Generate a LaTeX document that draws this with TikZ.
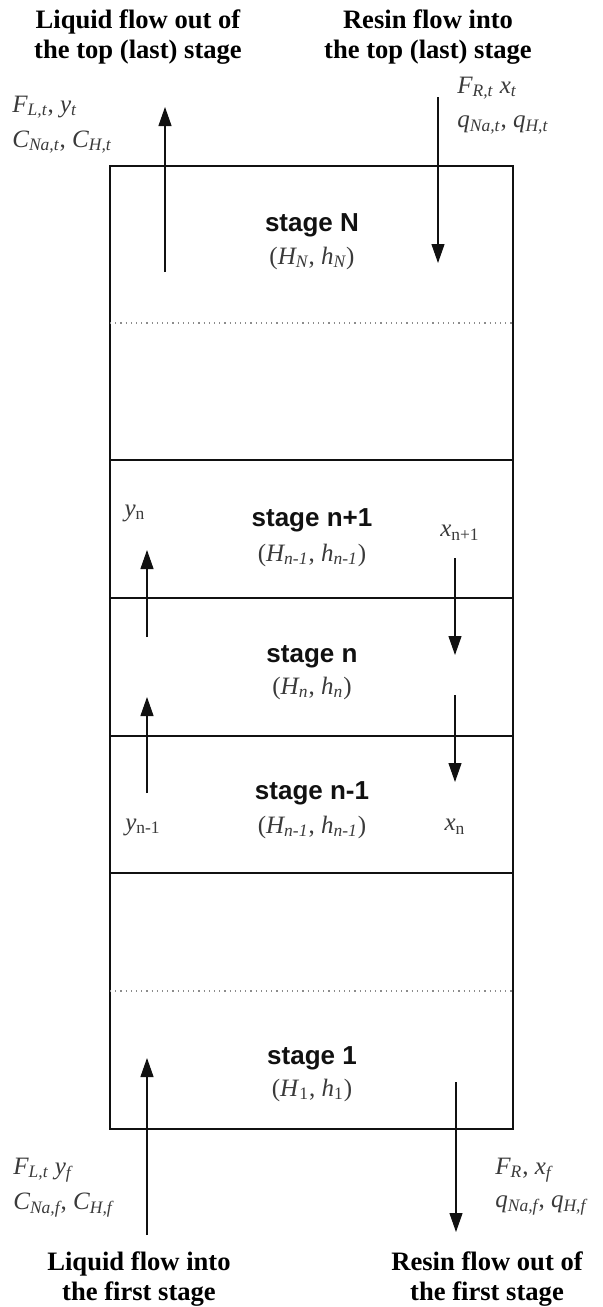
\documentclass[tikz,border=0pt]{standalone}
\usepackage{fontspec}
\setmainfont{Liberation Serif}
\newfontfamily\stagefont{Liberation Sans}
\usetikzlibrary{arrows.meta}
\definecolor{stageInk}{HTML}{111111}
\definecolor{labelInk}{HTML}{3A3A3A}
\definecolor{dotInk}{HTML}{8C8C8C}
%% italic symbol with italic / upright subscript
\newcommand{\vsub}[2]{\textit{#1\textsubscript{#2}}}
\newcommand{\vsubr}[2]{\textit{#1}\textsubscript{#2}}
\begin{document}
\begin{tikzpicture}[x=0.5pt, y=-0.5pt,
  heading/.style={font=\bfseries\fontsize{13.3}{15}\selectfont, align=center, inner sep=0pt},
  stagename/.style={font=\stagefont\bfseries\fontsize{13}{15}\selectfont, text=stageInk, inner sep=0pt},
  param/.style={font=\fontsize{12.5}{15}\selectfont, text=labelInk, inner sep=0pt},
  flow/.style={-{Triangle[length=9.5pt, width=6.5pt]}, line width=0.55pt, stageInk},
  wall/.style={line width=0.9pt, stageInk}]

  \useasboundingbox (0,0) rectangle (602,1307);

  %% --- Column of stages ---
  \coordinate (topL) at (110,166);
  \coordinate (botR) at (513,1129);
  \draw[wall] (topL) rectangle (botR);
  \foreach \y in {460, 598, 736, 873} {
    \draw[wall] (110,\y) -- (513,\y);
  }
  %% omitted stages (dotted)
  \foreach \y in {323, 991} {
    \draw[dotInk, dotted, line width=0.6pt] (110,\y) -- (513,\y);
  }

  %% --- Stage names ---
  \node[stagename] (sN)   at (312,225)  {stage N};
  \node[param]     (hN)   at (312,258)  {(\vsub{H}{N}, \vsub{h}{N})};
  \node[stagename] (sNp)  at (312,520)  {stage n+1};
  \node[param]     (hNp)  at (312,555)  {(\vsub{H}{n-1}, \vsub{h}{n-1})};
  \node[stagename] (sn)   at (312,657)  {stage n};
  \node[param]     (hn)   at (312,688)  {(\vsub{H}{n}, \vsub{h}{n})};
  \node[stagename] (snm)  at (312,793)  {stage n-1};
  \node[param]     (hnm)  at (312,827)  {(\vsub{H}{n-1}, \vsub{h}{n-1})};
  \node[stagename] (sone) at (312,1058) {stage 1};
  \node[param]     (hone) at (312,1090) {(\vsubr{H}{1}, \vsubr{h}{1})};

  %% --- Headings ---
  \node[heading] (liqOut) at (138,37)   {Liquid flow out of\\the top (last) stage};
  \node[heading] (resIn)  at (428,37)   {Resin flow into\\the top (last) stage};
  \node[heading] (liqIn)  at (139,1279) {Liquid flow into\\the first stage};
  \node[heading] (resOut) at (487,1279) {Resin flow out of\\the first stage};

  %% --- Outer stream labels ---
  \node[param, anchor=west] (liqOutA) at (12,107)  {\vsub{F}{L,t}, \vsub{y}{t}};
  \node[param, anchor=west] (liqOutB) at (12,142)  {\vsub{C}{Na,t}, \vsub{C}{H,t}};
  \node[param, anchor=west] (resInA)  at (457,88)  {\vsub{F}{R,t} \vsub{x}{t}};
  \node[param, anchor=west] (resInB)  at (457,125) {\vsub{q}{Na,t}, \vsub{q}{H,t}};
  \node[param, anchor=west] (liqInA)  at (13,1170) {\vsub{F}{L,t} \vsub{y}{f}};
  \node[param, anchor=west] (liqInB)  at (13,1205) {\vsub{C}{Na,f}, \vsub{C}{H,f}};
  \node[param, anchor=west] (resOutA) at (495,1170) {\vsub{F}{R}, \vsub{x}{f}};
  \node[param, anchor=west] (resOutB) at (495,1205) {\vsub{q}{Na,f}, \vsub{q}{H,f}};

  %% --- Inter-stage labels ---
  \node[param] (yn)   at (135,513) {\vsubr{y}{n}};
  \node[param] (xnp)  at (460,533) {\vsubr{x}{n+1}};
  \node[param] (ynm)  at (143,827) {\vsubr{y}{n-1}};
  \node[param] (xn)   at (455,827) {\vsubr{x}{n}};

  %% --- Arrow end points ---
  \coordinate (lqTopS) at (165,272);  \coordinate (lqTopE) at (165,107);
  \coordinate (rsTopS) at (438,97);   \coordinate (rsTopE) at (438,263);
  \coordinate (lqUpAS) at (147,637);  \coordinate (lqUpAE) at (147,550);
  \coordinate (lqUpBS) at (147,793);  \coordinate (lqUpBE) at (147,697);
  \coordinate (rsDnAS) at (455,558);  \coordinate (rsDnAE) at (455,655);
  \coordinate (rsDnBS) at (455,695);  \coordinate (rsDnBE) at (455,782);
  \coordinate (lqBotS) at (147,1235); \coordinate (lqBotE) at (147,1058);
  \coordinate (rsBotS) at (456,1082); \coordinate (rsBotE) at (456,1232);

  %% --- Liquid (up) and resin (down) streams ---
  \draw[flow] (lqTopS) -- (lqTopE);
  \draw[flow] (rsTopS) -- (rsTopE);
  \draw[flow] (lqUpAS) -- (lqUpAE);
  \draw[flow] (lqUpBS) -- (lqUpBE);
  \draw[flow] (rsDnAS) -- (rsDnAE);
  \draw[flow] (rsDnBS) -- (rsDnBE);
  \draw[flow] (lqBotS) -- (lqBotE);
  \draw[flow] (rsBotS) -- (rsBotE);
\end{tikzpicture}
\end{document}
